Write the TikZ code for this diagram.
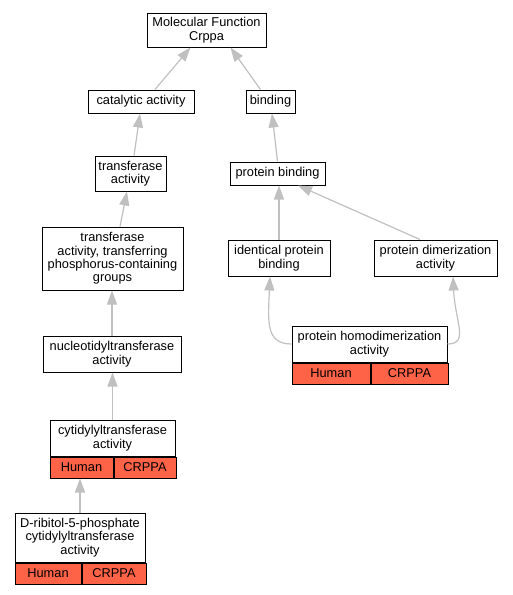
\documentclass[tikz,border=0pt]{standalone}
\usepackage{fontspec}
\setmainfont{Liberation Sans}
\usetikzlibrary{arrows.meta}
\definecolor{edgegray}{HTML}{C0C0C0}
\definecolor{tomato}{HTML}{FF6347}

\begin{document}
\begin{tikzpicture}[x=1pt, y=-1pt,
    term/.style={draw, line width=1pt, fill=white, align=center, inner sep=1pt,
        font=\fontsize{12.8}{13.4}\selectfont},
    redcell/.style={term, fill=tomato, minimum height=21pt, anchor=north west},
    edge/.style={draw=edgegray, line width=1.2pt, -{Triangle[length=14pt, width=10pt]}}]
    \useasboundingbox (0,0) rectangle (513,595);

    % Terms
    \node[term, minimum width=119pt, minimum height=34pt] (mf) at (206.5,30) {Molecular Function\\Crppa};
    \node[term, minimum width=106pt, minimum height=23pt] (cat) at (141,101.5) {catalytic activity};
    \node[term, minimum width=49pt, minimum height=23pt] (bind) at (270.5,101.5) {binding};
    \node[term, minimum width=71pt, minimum height=35pt] (trans) at (130.5,173.5) {transferase\\activity};
    \node[term, minimum width=95pt, minimum height=23pt] (pbind) at (277.5,173.5) {protein binding};
    \node[term, minimum width=141pt, minimum height=63pt] (phos) at (112.5,258.5) {transferase\\activity, transferring\\phosphorus-containing\\groups};
    \node[term, minimum width=102pt, minimum height=36pt] (ident) at (279,258) {identical protein\\binding};
    \node[term, minimum width=123pt, minimum height=36pt] (dimer) at (435.5,258) {protein dimerization\\activity};
    \node[term, minimum width=138pt, minimum height=36pt] (nucl) at (112,354) {nucleotidyltransferase\\activity};

    % Annotated terms with gene rows
    \node[term, minimum width=155pt, minimum height=36pt] (homo) at (369.5,344) {protein homodimerization\\activity};
    \node[redcell, minimum width=78pt] (homohu) at (homo.south west) {Human};
    \node[redcell, minimum width=77pt] (homocr) at (homohu.north east) {CRPPA};

    \node[term, minimum width=125pt, minimum height=36pt] (cyt) at (112.5,438) {cytidylyltransferase\\activity};
    \node[redcell, minimum width=63pt] (cythu) at (cyt.south west) {Human};
    \node[redcell, minimum width=62pt] (cytcr) at (cythu.north east) {CRPPA};

    \node[term, minimum width=130pt, minimum height=49pt] (ribi) at (80,537.5) {D-ribitol-5-phosphate\\cytidylyltransferase\\activity};
    \node[redcell, minimum width=66pt] (ribihu) at (ribi.south west) {Human};
    \node[redcell, minimum width=64pt] (ribicr) at (ribihu.north east) {CRPPA};

    % Edges
    \draw[edge] ([xshift=14pt]cat.north) -- ([xshift=-16pt]mf.south);
    \draw[edge] ([xshift=-10pt]bind.north) -- ([xshift=24pt]mf.south);
    \draw[edge] ([xshift=3.5pt]trans.north) -- ([xshift=-1pt]cat.south);
    \draw[edge] (pbind.north) -- ([xshift=1.5pt]bind.south);
    \draw[edge] ([xshift=7.5pt]phos.north) -- ([xshift=-3.5pt]trans.south);
    \draw[edge] (ident.north) -- (ident.north |- pbind.south);
    \draw[edge] ([xshift=-15.5pt]dimer.north) -- ([xshift=20.5pt]pbind.south);
    \draw[edge] (nucl.north) -- (nucl.north |- phos.south);
    \draw[edge] (cyt.north) -- (cyt.north |- nucl.south);
    \draw[edge] (ribi.north) -- (ribi.north |- cythu.south);
    \draw[edge] (homo.west) .. controls +(-26,0) and +(-2,45) .. ([xshift=-9pt]ident.south);
    \draw[edge] (homo.east) .. controls +(22,0) and +(2,45) .. ([xshift=17.5pt]dimer.south);
\end{tikzpicture}
\end{document}
